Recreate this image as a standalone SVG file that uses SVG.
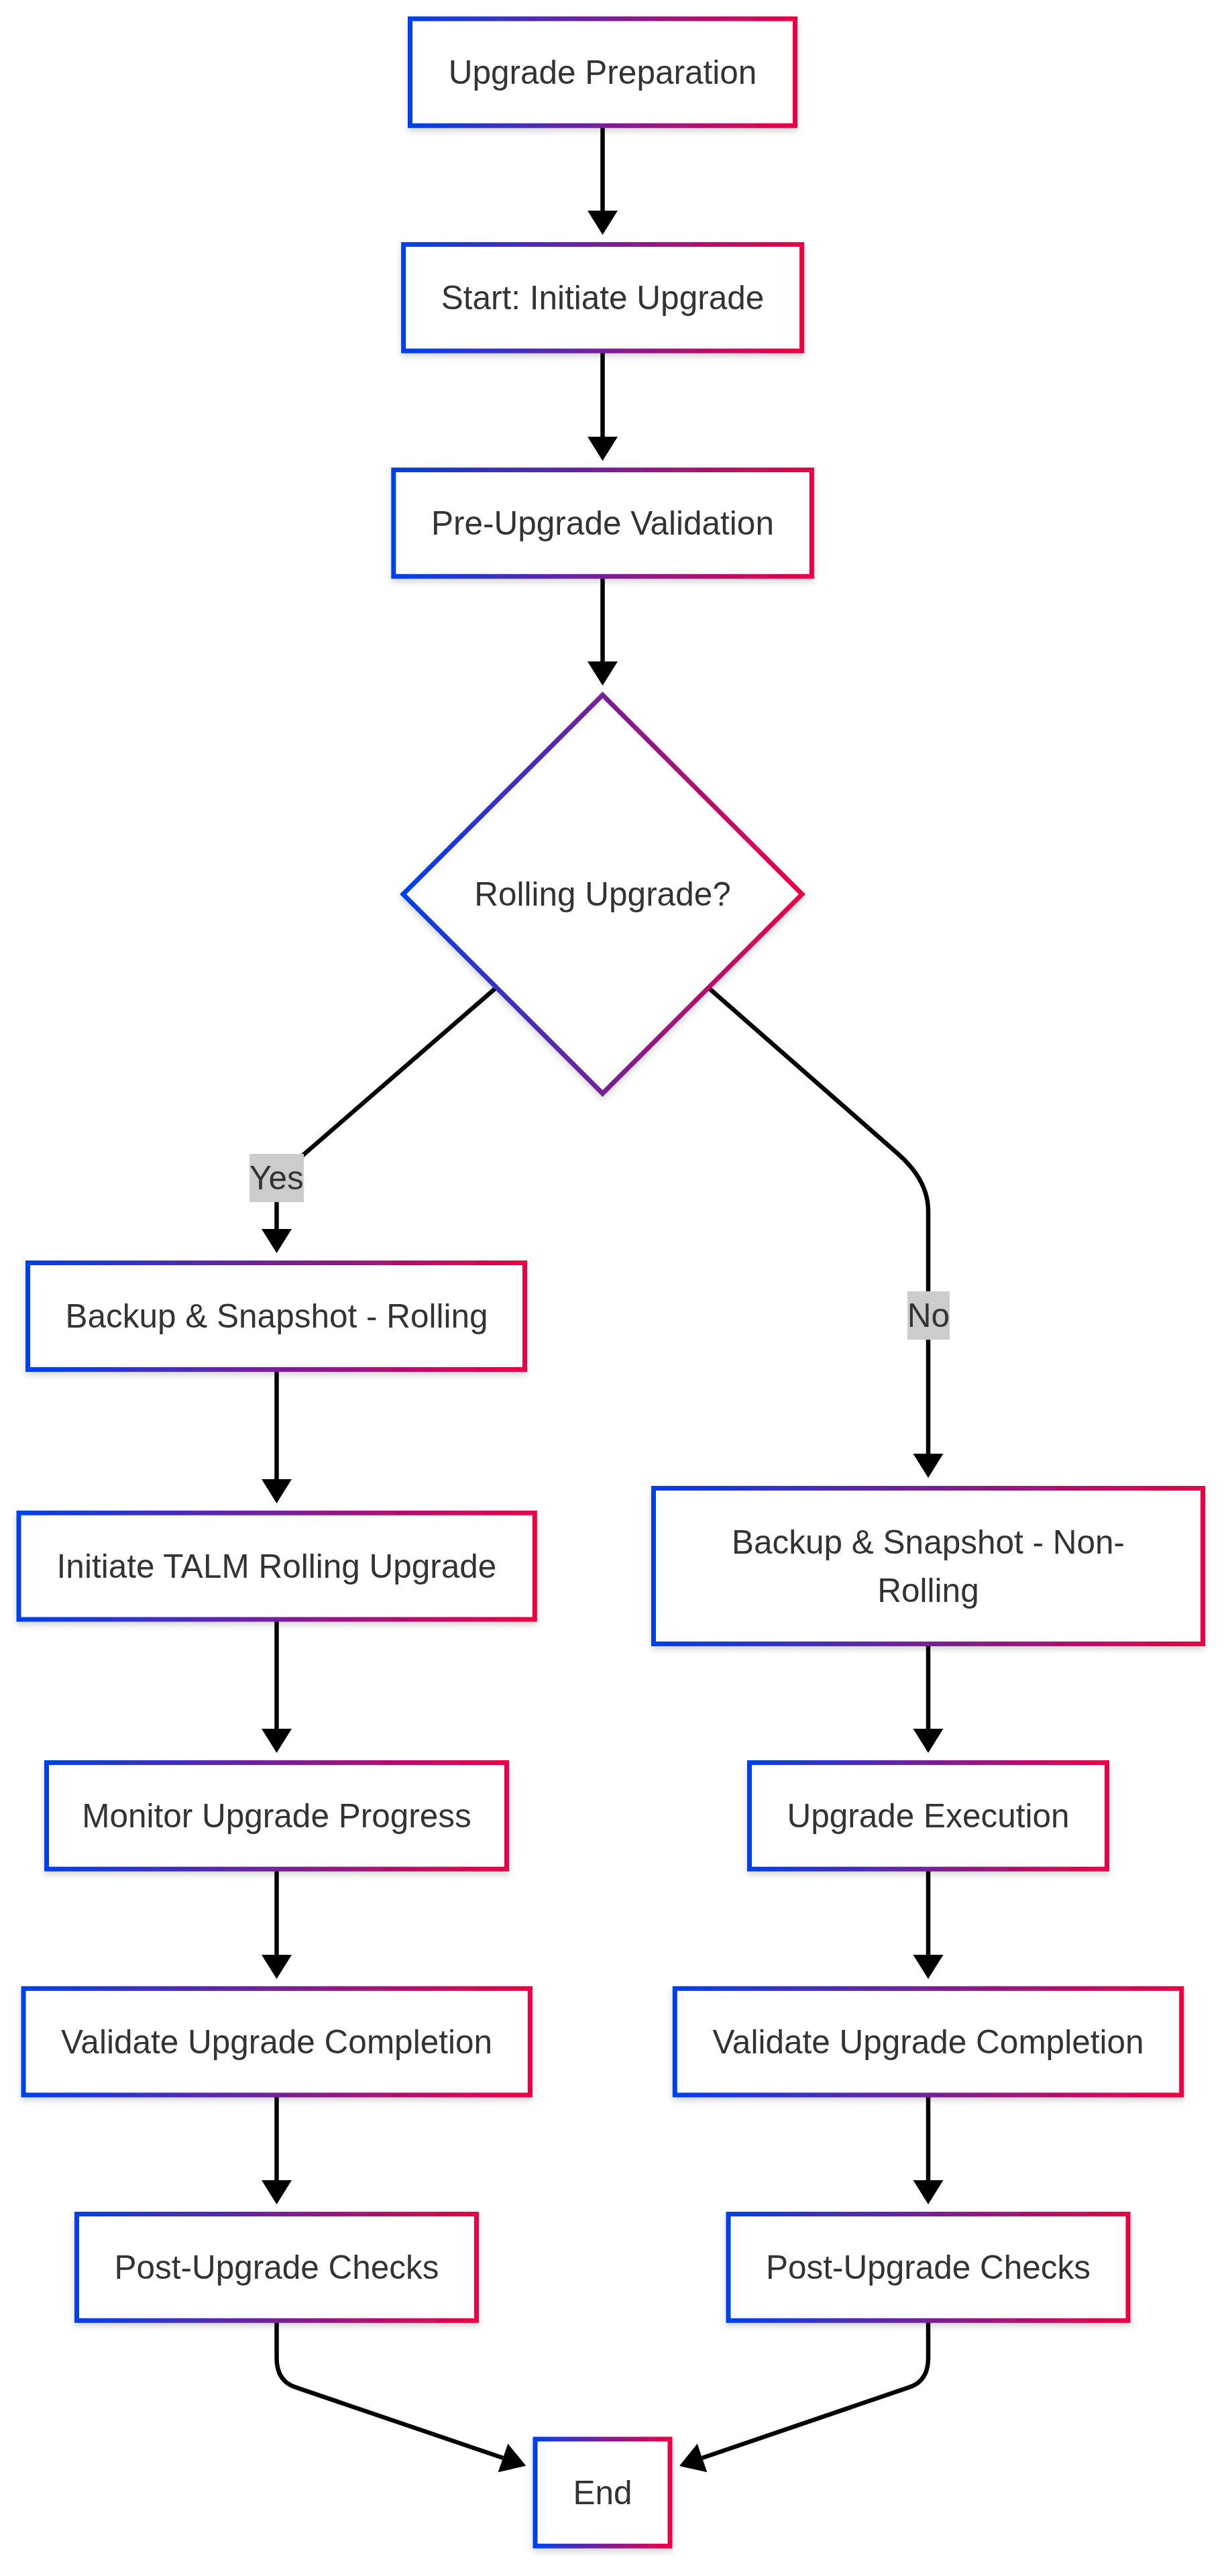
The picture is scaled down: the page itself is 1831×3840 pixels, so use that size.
<svg xmlns="http://www.w3.org/2000/svg" width="1831" height="3840" viewBox="0 0 1831 3840">
<defs>
<linearGradient id="grad" x1="0" y1="0" x2="1" y2="0">
<stop offset="0" stop-color="#0040ec"/>
<stop offset="1" stop-color="#ec0044"/>
</linearGradient>
<filter id="shadow" x="-10%" y="-10%" width="120%" height="130%">
<feDropShadow dx="0" dy="5" stdDeviation="5" flood-color="#000" flood-opacity="0.16"/>
</filter>
</defs>
<style>
.node { fill: #ffffff; stroke: url(#grad); stroke-width: 7; filter: url(#shadow); }
.label { font-family: "Liberation Sans", Arial, Helvetica, sans-serif; font-size: 49.5px; fill: #333333; text-anchor: middle; }
.edge { fill: none; stroke: #000000; stroke-width: 6.5; }
.arrow { fill: #000000; stroke: none; }
.elbg { fill: #cccccc; }
</style>
<rect width="1831" height="3840" fill="#ffffff"/>

<g id="connectors">
  <path class="edge" d="M898.5,187 L898.5,314"/>
  <polygon class="arrow" points="898.5,350 876,314 921,314"/>
  <path class="edge" d="M898.5,523 L898.5,651"/>
  <polygon class="arrow" points="898.5,687 876,651 921,651"/>
  <path class="edge" d="M898.5,859 L898.5,986"/>
  <polygon class="arrow" points="898.5,1022 876,986 921,986"/>
  <path class="edge" d="M739,1473 L412.5,1756 L412.5,1832"/>
  <polygon class="arrow" points="412.5,1868 390,1832 435,1832"/>
  <path class="edge" d="M1057,1473 L1340,1721 Q1384,1760 1384,1805 L1384,2167"/>
  <polygon class="arrow" points="1384,2203 1361.5,2167 1406.5,2167"/>
  <path class="edge" d="M412.5,2041 L412.5,2205"/>
  <polygon class="arrow" points="412.5,2241 390,2205 435,2205"/>
  <path class="edge" d="M412.5,2414 L412.5,2577"/>
  <polygon class="arrow" points="412.5,2613 390,2577 435,2577"/>
  <path class="edge" d="M412.5,2786 L412.5,2914"/>
  <polygon class="arrow" points="412.5,2950 390,2914 435,2914"/>
  <path class="edge" d="M412.5,3123 L412.5,3250"/>
  <polygon class="arrow" points="412.5,3286 390,3250 435,3250"/>
  <path class="edge" d="M1384,2450 L1384,2577"/>
  <polygon class="arrow" points="1384,2613 1361.5,2577 1406.5,2577"/>
  <path class="edge" d="M1384,2786 L1384,2914"/>
  <polygon class="arrow" points="1384,2950 1361.5,2914 1406.5,2914"/>
  <path class="edge" d="M1384,3123 L1384,3250"/>
  <polygon class="arrow" points="1384,3286 1361.5,3250 1406.5,3250"/>
  <path class="edge" d="M412.5,3459 L412.5,3515 Q412.5,3549 440,3558.4 L750,3664"/>
  <polygon class="arrow" points="784.3,3675.7 742.7,3685.3 757.3,3642.7"/>
  <path class="edge" d="M1384,3459 L1384,3515 Q1384,3549 1356.5,3558.4 L1047,3664"/>
  <polygon class="arrow" points="1013,3676 1054.3,3685.3 1039.7,3642.7"/>
</g>

<g id="edge-labels">
  <g id="label-yes">
    <rect class="elbg" x="372" y="1720" width="81" height="72"/>
    <text class="label" x="412.5" y="1773">Yes</text>
  </g>
  <g id="label-no">
    <rect class="elbg" x="1353" y="1925" width="63" height="72"/>
    <text class="label" x="1384.5" y="1978">No</text>
  </g>
</g>

<g id="node-prep">
  <rect class="node" x="611.5" y="28" width="574" height="159.3"/>
  <text class="label" x="898.5" y="124.6">Upgrade Preparation</text>
</g>
<g id="node-start">
  <rect class="node" x="601.6" y="364.4" width="594" height="158.7"/>
  <text class="label" x="898.5" y="460.8">Start: Initiate Upgrade</text>
</g>
<g id="node-prevalidation">
  <rect class="node" x="586.8" y="700.5" width="623.6" height="158.7"/>
  <text class="label" x="898.5" y="796.9">Pre-Upgrade Validation</text>
</g>
<g id="node-decision">
  <polygon class="node" points="898.5,1036 1196,1333 898.5,1630 601,1333"/>
  <text class="label" x="898.5" y="1350.4">Rolling Upgrade?</text>
</g>
<g id="node-backup-rolling">
  <rect class="node" x="41.5" y="1882.5" width="741" height="159"/>
  <text class="label" x="412.5" y="1979">Backup &amp; Snapshot - Rolling</text>
</g>
<g id="node-talm">
  <rect class="node" x="28" y="2255.3" width="769.3" height="158.7"/>
  <text class="label" x="412.5" y="2351.7">Initiate TALM Rolling Upgrade</text>
</g>
<g id="node-monitor">
  <rect class="node" x="69.5" y="2627.5" width="686" height="158.7"/>
  <text class="label" x="412.5" y="2723.9">Monitor Upgrade Progress</text>
</g>
<g id="node-validate-rolling">
  <rect class="node" x="35" y="2964.3" width="755.4" height="158.7"/>
  <text class="label" x="412.5" y="3060.7">Validate Upgrade Completion</text>
</g>
<g id="node-post-rolling">
  <rect class="node" x="114.5" y="3300.5" width="596" height="158.7"/>
  <text class="label" x="412.5" y="3396.9">Post-Upgrade Checks</text>
</g>
<g id="node-backup-nonrolling">
  <rect class="node" x="974.5" y="2218.5" width="819" height="232"/>
  <text class="label" x="1384" y="2315.5">Backup &amp; Snapshot - Non-</text>
  <text class="label" x="1384" y="2387.5">Rolling</text>
</g>
<g id="node-execution">
  <rect class="node" x="1117.5" y="2627.5" width="533" height="158.7"/>
  <text class="label" x="1384" y="2723.9">Upgrade Execution</text>
</g>
<g id="node-validate-nonrolling">
  <rect class="node" x="1006.3" y="2964.3" width="755.4" height="158.7"/>
  <text class="label" x="1384" y="3060.7">Validate Upgrade Completion</text>
</g>
<g id="node-post-nonrolling">
  <rect class="node" x="1086" y="3300.5" width="596" height="158.7"/>
  <text class="label" x="1384" y="3396.9">Post-Upgrade Checks</text>
</g>
<g id="node-end">
  <rect class="node" x="798" y="3636" width="201" height="159.3"/>
  <text class="label" x="898.5" y="3732.7">End</text>
</g>
</svg>
